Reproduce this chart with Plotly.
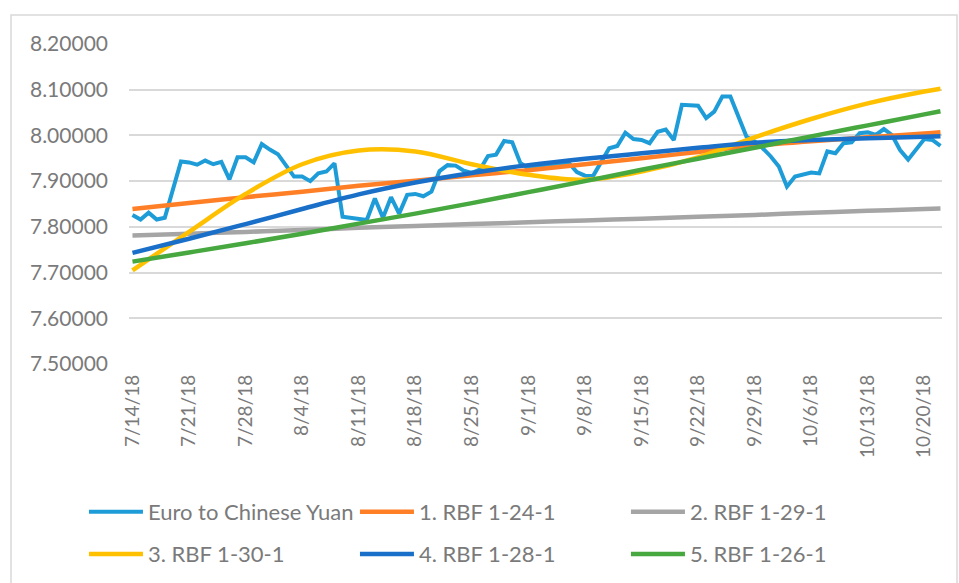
import pandas as pd
import plotly.graph_objects as go

start_date = pd.Timestamp("2018-07-14")

# Euro to Chinese Yuan: day offset from 7/14/18 and rate
euro_day = [0, 1, 2, 3, 4, 6, 7, 8, 9, 10, 11, 12, 13, 14, 15, 16, 17, 18, 20, 21,
            22, 23, 24, 25, 26, 27, 28, 29, 30, 31, 32, 33, 34, 35, 36, 37, 38, 39, 40, 41,
            42, 43, 44, 45, 46, 47, 48, 49, 50, 51, 52, 53, 54, 55, 56, 57, 58, 59, 60, 61,
            62, 63, 64, 65, 66, 67, 68, 69, 70, 71, 72, 73, 74, 76, 77, 78, 79, 80, 81, 82,
            84, 85, 86, 87, 88, 89, 90, 91, 92, 93, 94, 95, 96, 98, 99, 100]
euro_rate = [7.826, 7.816, 7.831, 7.816, 7.820, 7.943, 7.941, 7.936, 7.945, 7.937,
             7.942, 7.904, 7.952, 7.952, 7.941, 7.981, 7.969, 7.959, 7.910, 7.910,
             7.900, 7.917, 7.921, 7.939, 7.822, 7.820, 7.818, 7.815, 7.862, 7.820,
             7.865, 7.829, 7.870, 7.872, 7.867, 7.877, 7.922, 7.935, 7.934, 7.923,
             7.918, 7.925, 7.955, 7.958, 7.988, 7.985, 7.940, 7.928, 7.930, 7.933,
             7.935, 7.938, 7.940, 7.920, 7.912, 7.911, 7.942, 7.972, 7.977, 8.006,
             7.992, 7.990, 7.983, 8.008, 8.013, 7.990, 8.067, 8.066, 8.065, 8.038,
             8.052, 8.085, 8.085, 7.997, 7.987, 7.972, 7.954, 7.932, 7.888, 7.910,
             7.919, 7.917, 7.965, 7.961, 7.983, 7.985, 8.005, 8.007, 8.001, 8.014,
             8.001, 7.968, 7.947, 7.992, 7.990, 7.977]

# RBF model outputs, read at weekly positions
fit_day = [0, 7, 14, 21, 28, 35, 42, 49, 56, 63, 70, 77, 84, 91, 98, 100]
rbf_1_24_1 = [7.839, 7.852, 7.865, 7.877, 7.890, 7.901, 7.913, 7.924, 7.937, 7.950,
              7.964, 7.978, 7.987, 7.996, 8.004, 8.007]
rbf_1_29_1 = [7.781, 7.785, 7.789, 7.793, 7.798, 7.802, 7.806, 7.810, 7.814, 7.818,
              7.822, 7.826, 7.831, 7.835, 7.839, 7.840]
rbf_1_30_1 = [7.705, 7.789, 7.872, 7.937, 7.967, 7.965, 7.937, 7.914, 7.903, 7.921,
              7.952, 7.996, 8.036, 8.070, 8.096, 8.102]
rbf_1_28_1 = [7.743, 7.774, 7.806, 7.839, 7.871, 7.897, 7.918, 7.935, 7.949, 7.961,
              7.973, 7.984, 7.990, 7.994, 7.997, 7.998]
rbf_1_26_1 = [7.724, 7.744, 7.764, 7.785, 7.807, 7.829, 7.852, 7.876, 7.900, 7.925,
              7.949, 7.973, 7.998, 8.022, 8.046, 8.053]

series_names = ["Euro to Chinese Yuan", "1. RBF 1-24-1", "2. RBF 1-29-1",
                "3. RBF 1-30-1", "4. RBF 1-28-1", "5. RBF 1-26-1"]
series_colors = ["#1E9CD7", "#FF7F27", "#A5A5A5", "#FFC000", "#1A70C8", "#46A83F"]

euro_x = [start_date + pd.Timedelta(days=d) for d in euro_day]
fit_x = [start_date + pd.Timedelta(days=d) for d in fit_day]

fig = go.Figure()
fig.add_trace(go.Scatter(x=euro_x, y=euro_rate, mode="lines", name=series_names[0],
                         line=dict(color=series_colors[0], width=4), legend="legend"))
fits = [rbf_1_24_1, rbf_1_29_1, rbf_1_30_1, rbf_1_28_1, rbf_1_26_1]
for i, vals in enumerate(fits):
    fig.add_trace(go.Scatter(x=fit_x, y=vals, mode="lines", name=series_names[i + 1],
                             line=dict(color=series_colors[i + 1], width=4.5, shape="spline"),
                             legend="legend" if i < 2 else "legend2"))

txt = "#7A7A7A"
leg_common = dict(orientation="h", x=-0.0554, xanchor="left", yanchor="middle",
                  entrywidth=202, entrywidthmode="pixels", itemwidth=54,
                  font=dict(size=22, color=txt),
                  bgcolor="rgba(0,0,0,0)", traceorder="normal")
fig.update_layout(
    width=959, height=583,
    margin=dict(l=129, r=17, t=44, b=219, autoexpand=False),
    plot_bgcolor="white", paper_bgcolor="white",
    font=dict(family="Lato", color=txt),
    xaxis=dict(
        type="date",
        range=["2018-07-13 13:40", "2018-10-22 04:35"],
        tick0="2018-07-14", dtick=7 * 86400000,
        tickformat="%-m/%-d/%y", tickangle=-90,
        showgrid=False, zeroline=False, showline=False, ticks="",
        tickfont=dict(size=19, color=txt), ticklabelstandoff=6,
    ),
    yaxis=dict(
        range=[7.5, 8.2], dtick=0.1, tick0=7.5, tickformat=".5f",
        showgrid=True, gridcolor="#D9D9D9", gridwidth=1.5,
        zeroline=False, showline=False, ticks="",
        tickfont=dict(size=21, color=txt), ticklabelstandoff=20,
    ),
    legend=dict(leg_common, y=-0.4625),
    legend2=dict(leg_common, y=-0.594),
    shapes=[dict(type="rect", xref="paper", yref="paper",
                 x0=(11 - 129) / 813, x1=(957 - 129) / 813,
                 y0=(364 - 600) / 320, y1=(364 - 15) / 320,
                 line=dict(color="#D9D9D9", width=1.5), fillcolor="rgba(0,0,0,0)", layer="below")],
)

fig.write_html("out.html", config={"displayModeBar": False},
               post_script="document.body.style.margin='0px';")
